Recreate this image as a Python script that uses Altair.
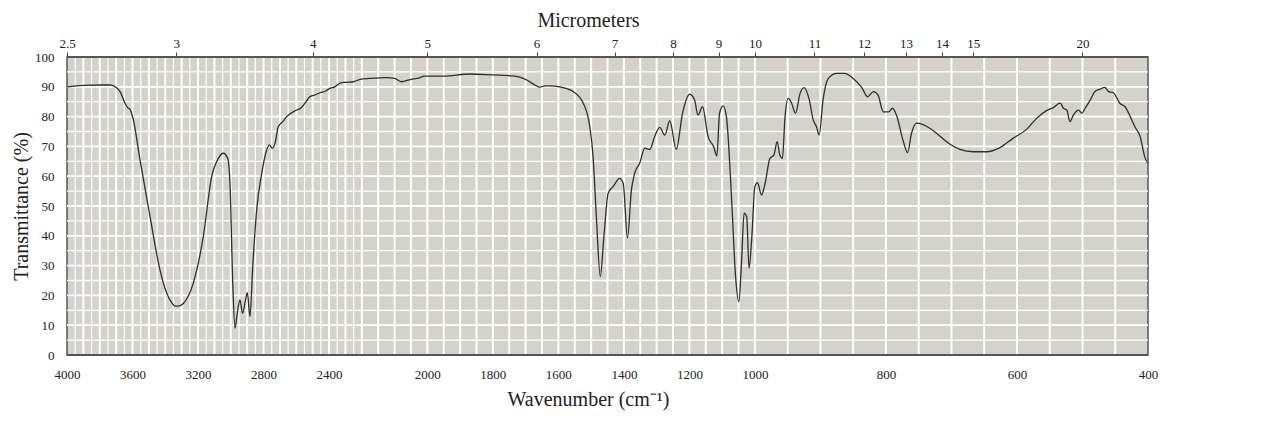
import altair as alt
import pandas as pd

# ---- spectrum data (wavenumber cm-1, transmittance %) ----
wavenumber = [
    4000, 3900, 3800, 3737, 3700, 3676, 3646, 3630, 3615, 3595, 3554, 3493, 3432, 3391,
    3360, 3341, 3315, 3290, 3229, 3168, 3117, 3076, 3046, 3019, 3005, 2988, 2974, 2963,
    2954, 2944, 2928, 2912, 2899, 2883, 2866, 2842, 2811, 2781, 2765, 2747, 2730, 2710,
    2680, 2659, 2598, 2570, 2547, 2517, 2490, 2455, 2420, 2394, 2364, 2333, 2300, 2252,
    2211, 2176, 2125, 2100, 2079, 2050, 2030, 2008, 1950, 1870, 1800, 1733, 1700, 1670,
    1657, 1640, 1626, 1596, 1555, 1524, 1504, 1494, 1484, 1472, 1461, 1448, 1433, 1413,
    1402, 1389, 1377, 1367, 1352, 1336, 1321, 1306, 1291, 1275, 1260, 1240, 1221, 1199,
    1184, 1174, 1160, 1143, 1126, 1116, 1108, 1097, 1087, 1071, 1059, 1049, 1041, 1033,
    1025, 1018, 1010, 1000, 996, 990, 985, 977, 971, 966, 962, 958, 954, 949, 944, 938,
    931, 925, 917, 911, 906, 902, 896, 888, 875, 863, 850, 837, 828, 819, 812, 804, 796,
    790, 784, 774, 767, 761, 753, 733, 717, 702, 687, 667, 646, 626, 606, 585, 570, 555,
    544, 534, 529, 524, 519, 514, 506, 501, 496, 488, 481, 473, 466, 460, 453, 443, 435,
    427, 420, 412, 405, 400,
]
transmittance = [
    90.0, 90.5, 90.6, 90.6, 89.8, 88.4, 84.5, 83.0, 82.4, 78.9, 65.4, 46.4, 28.5, 20.7,
    17.5, 16.4, 16.5, 17.3, 24.1, 39.7, 59.8, 66.0, 67.7, 66.0, 57.7, 24.1, 9.0, 13.0,
    16.2, 18.5, 14.0, 17.9, 20.9, 12.9, 29.6, 48.7, 61.0, 68.8, 70.5, 69.4, 71.0, 76.6,
    78.5, 80.0, 82.2, 83.0, 84.5, 86.7, 87.2, 88.0, 88.6, 89.5, 90.0, 91.2, 91.5, 91.7,
    92.5, 92.8, 93.1, 92.8, 91.7, 92.5, 92.8, 93.6, 93.6, 94.3, 94.0, 93.6, 92.5, 90.5,
    89.9, 90.3, 90.3, 90.0, 88.4, 84.5, 76.6, 66.5, 46.4, 26.3, 39.7, 54.3, 56.5, 59.3,
    57.6, 39.2, 55.4, 61.0, 64.3, 69.4, 69.0, 73.3, 76.4, 73.8, 78.6, 69.0, 81.1, 87.5,
    85.6, 80.5, 83.3, 73.3, 69.9, 66.8, 81.1, 83.6, 80.0, 52.0, 26.3, 17.9, 30.8, 47.6,
    46.4, 29.1, 38.6, 56.5, 57.8, 53.7, 57.0, 66.0, 67.1, 71.6, 67.1, 66.0, 80.0, 86.1,
    84.5, 81.1, 87.8, 89.7, 85.6, 78.9, 76.6, 73.8, 85.6, 92.8, 94.5, 94.5, 92.8, 89.8,
    86.7, 88.4, 87.2, 81.6, 81.6, 82.8, 80.5, 72.1, 67.9, 74.4, 77.8, 76.1, 73.3, 70.7,
    69.0, 68.2, 68.2, 69.6, 72.7, 75.8, 79.4, 82.0, 83.1, 84.5, 82.8, 82.2, 78.3, 80.5,
    82.2, 81.1, 82.8, 85.6, 88.4, 89.2, 89.8, 88.4, 88.0, 84.5, 83.3, 80.0, 76.6, 73.3,
    66.5, 64.3,
]

# ---- axis tick labels ----
bottom_ticks = [4000, 3600, 3200, 2800, 2400, 2000, 1800, 1600, 1400, 1200, 1000, 800, 600, 400]
micrometer_ticks = [2.5, 3, 4, 5, 6, 7, 8, 9, 10, 11, 12, 13, 14, 15, 20]
y_ticks = list(range(0, 101, 10))

# ---- grid lines and frame ----
vgrid_major = list(range(3900, 2200, -100)) + list(range(2200, 400, -50))
vgrid_minor = list(range(3950, 2200, -100))
hgrid_major = list(range(10, 100, 10))
hgrid_minor = list(range(5, 100, 10))
frame_y = [0, 100]

W, H = 1081, 298
u = W / 66.0
xscale = alt.Scale(domain=[4000, 2200, 1000, 400], range=[0, 18 * u, 42 * u, W])
yscale = alt.Scale(domain=[0, 100])

FONT = "Liberation Serif"
GRID = "#ffffff"
TXT = "#222222"
TITLE_X = 521  # titles sit a little left of the plot centre in the reference

spec = pd.DataFrame({"wn": wavenumber, "t": transmittance})

vmaj = alt.Chart(pd.DataFrame({"wn": vgrid_major})).mark_rule(color=GRID, strokeWidth=2).encode(
    x=alt.X("wn:Q", scale=xscale, axis=None)
)
vmin = alt.Chart(pd.DataFrame({"wn": vgrid_minor})).mark_rule(color=GRID, strokeWidth=1.2).encode(
    x=alt.X("wn:Q", scale=xscale, axis=None)
)
hmaj = alt.Chart(pd.DataFrame({"t": hgrid_major})).mark_rule(color=GRID, strokeWidth=1.8).encode(
    y=alt.Y("t:Q", scale=yscale, axis=None)
)
hmin = alt.Chart(pd.DataFrame({"t": hgrid_minor})).mark_rule(color=GRID, strokeWidth=1.3).encode(
    y=alt.Y("t:Q", scale=yscale, axis=None)
)
frame = alt.Chart(pd.DataFrame({"t": frame_y})).mark_rule(color="#555555", strokeWidth=2).encode(
    y=alt.Y("t:Q", scale=yscale, axis=None)
)

line = alt.Chart(spec).mark_line(color="#2e2e2e", strokeWidth=1.3, interpolate="monotone").encode(
    x=alt.X(
        "wn:Q",
        scale=xscale,
        axis=alt.Axis(
            orient="bottom",
            values=bottom_ticks,
            format="d",
            grid=False,
            ticks=False,
            domain=False,
            labelFlush=False,
            labelFont=FONT,
            labelFontSize=13,
            labelColor=TXT,
            labelPadding=13,
            title="Wavenumber (cm⁻¹)",
            titleFont=FONT,
            titleFontSize=20,
            titleFontWeight="normal",
            titleColor=TXT,
            titlePadding=8,
            titleX=TITLE_X,
            titleAlign="center",
        ),
    ),
    y=alt.Y(
        "t:Q",
        scale=yscale,
        axis=alt.Axis(
            values=y_ticks,
            grid=False,
            ticks=False,
            domain=False,
            labelFont=FONT,
            labelFontSize=13,
            labelColor=TXT,
            labelPadding=13,
            title="Transmittance (%)",
            titleFont=FONT,
            titleFontSize=20,
            titleFontWeight="normal",
            titleColor=TXT,
            titlePadding=3,
        ),
    ),
    order=alt.Order("idx:Q"),
).transform_window(idx="row_number()")

top = alt.Chart(pd.DataFrame({"wn": [10000.0 / m for m in micrometer_ticks]})).mark_point(opacity=0).encode(
    x=alt.X(
        "wn:Q",
        scale=xscale,
        axis=alt.Axis(
            orient="top",
            values=[10000.0 / m for m in micrometer_ticks],
            labelExpr="format(10000 / datum.value, '.3~g')",
            grid=False,
            ticks=True,
            tickSize=5,
            tickColor="#444444",
            tickWidth=1,
            domain=False,
            labelFlush=False,
            labelFont=FONT,
            labelFontSize=13,
            labelColor=TXT,
            labelPadding=2,
            title="Micrometers",
            titleFont=FONT,
            titleFontSize=20,
            titleFontWeight="normal",
            titleColor=TXT,
            titlePadding=7,
            titleX=TITLE_X,
            titleAlign="center",
        ),
    ),
    y=alt.value(0),
)

chart = (
    alt.layer(vmaj, vmin, hmaj, hmin, frame, line, top)
    .resolve_axis(x="independent", y="independent")
    .properties(
        width=W,
        height=H,
        background="white",
        autosize=alt.AutoSizeParams(type="none"),
        padding={"left": 59, "top": 49, "right": 20, "bottom": 60},
    )
    .configure_view(fill="#d5d1cd", stroke="#555555", strokeWidth=1.5)
)

chart.save("out.html", embed_options={"renderer": "svg", "actions": False})
